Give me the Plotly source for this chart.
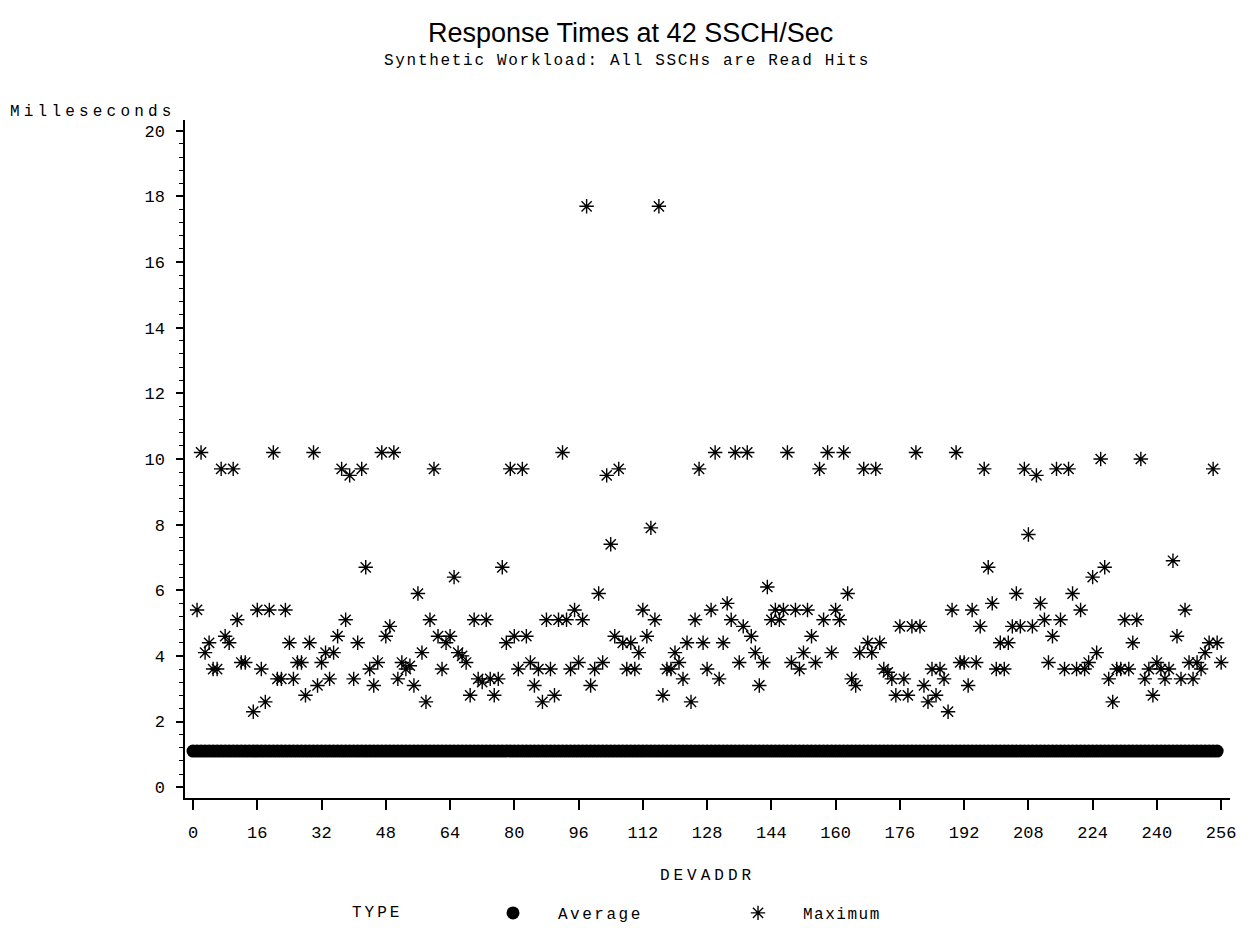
import plotly.graph_objects as go

# ---------------- data ----------------
devaddr_avg = list(range(0, 256))
avg_ms = [
    1.1, 1.1, 1.1, 1.1, 1.1, 1.1, 1.1, 1.1, 1.1, 1.1, 1.1, 1.1, 1.1, 1.1, 1.1, 1.1,
    1.1, 1.1, 1.1, 1.1, 1.1, 1.1, 1.1, 1.1, 1.1, 1.1, 1.1, 1.1, 1.1, 1.1, 1.1, 1.1,
    1.1, 1.1, 1.1, 1.1, 1.1, 1.1, 1.1, 1.1, 1.1, 1.1, 1.1, 1.1, 1.1, 1.1, 1.1, 1.1,
    1.1, 1.1, 1.1, 1.1, 1.1, 1.1, 1.1, 1.1, 1.1, 1.1, 1.1, 1.1, 1.1, 1.1, 1.1, 1.1,
    1.1, 1.1, 1.1, 1.1, 1.1, 1.1, 1.1, 1.1, 1.1, 1.1, 1.1, 1.1, 1.1, 1.1, 1.1, 1.1,
    1.1, 1.1, 1.1, 1.1, 1.1, 1.1, 1.1, 1.1, 1.1, 1.1, 1.1, 1.1, 1.1, 1.1, 1.1, 1.1,
    1.1, 1.1, 1.1, 1.1, 1.1, 1.1, 1.1, 1.1, 1.1, 1.1, 1.1, 1.1, 1.1, 1.1, 1.1, 1.1,
    1.1, 1.1, 1.1, 1.1, 1.1, 1.1, 1.1, 1.1, 1.1, 1.1, 1.1, 1.1, 1.1, 1.1, 1.1, 1.1,
    1.1, 1.1, 1.1, 1.1, 1.1, 1.1, 1.1, 1.1, 1.1, 1.1, 1.1, 1.1, 1.1, 1.1, 1.1, 1.1,
    1.1, 1.1, 1.1, 1.1, 1.1, 1.1, 1.1, 1.1, 1.1, 1.1, 1.1, 1.1, 1.1, 1.1, 1.1, 1.1,
    1.1, 1.1, 1.1, 1.1, 1.1, 1.1, 1.1, 1.1, 1.1, 1.1, 1.1, 1.1, 1.1, 1.1, 1.1, 1.1,
    1.1, 1.1, 1.1, 1.1, 1.1, 1.1, 1.1, 1.1, 1.1, 1.1, 1.1, 1.1, 1.1, 1.1, 1.1, 1.1,
    1.1, 1.1, 1.1, 1.1, 1.1, 1.1, 1.1, 1.1, 1.1, 1.1, 1.1, 1.1, 1.1, 1.1, 1.1, 1.1,
    1.1, 1.1, 1.1, 1.1, 1.1, 1.1, 1.1, 1.1, 1.1, 1.1, 1.1, 1.1, 1.1, 1.1, 1.1, 1.1,
    1.1, 1.1, 1.1, 1.1, 1.1, 1.1, 1.1, 1.1, 1.1, 1.1, 1.1, 1.1, 1.1, 1.1, 1.1, 1.1,
    1.1, 1.1, 1.1, 1.1, 1.1, 1.1, 1.1, 1.1, 1.1, 1.1, 1.1, 1.1, 1.1, 1.1, 1.1, 1.1,
]

devaddr_max = [
    1, 2, 3, 4, 5, 6, 7, 8, 9, 10, 11, 12, 13, 15, 16, 17, 18, 19, 20,
    21, 22, 23, 24, 25, 26, 27, 28, 29, 30, 31, 32, 33, 34, 35, 36, 37, 38, 39, 40,
    41, 42, 43, 44, 45, 46, 47, 48, 49, 50, 51, 52, 53, 54, 55, 56, 57, 58, 59, 60,
    61, 62, 63, 64, 65, 66, 67, 68, 69, 70, 71, 72, 73, 74, 75, 76, 77, 78, 79, 80,
    81, 82, 83, 84, 85, 86, 87, 88, 89, 90, 91, 92, 93, 94, 95, 96, 97, 98, 99, 100,
    101, 102, 103, 104, 105, 106, 107, 108, 109, 110, 111, 112, 113, 114, 115, 116, 117, 118, 119, 120,
    121, 122, 123, 124, 125, 126, 127, 128, 129, 130, 131, 132, 133, 134, 135, 136, 137, 138, 139, 140,
    141, 142, 143, 144, 145, 146, 147, 148, 149, 150, 151, 152, 153, 154, 155, 156, 157, 158, 159, 160,
    161, 162, 163, 164, 165, 166, 167, 168, 169, 170, 171, 172, 173, 174, 175, 176, 177, 178, 179, 180,
    181, 182, 183, 184, 185, 186, 187, 188, 189, 190, 191, 192, 193, 194, 195, 196, 197, 198, 199, 200,
    201, 202, 203, 204, 205, 206, 207, 208, 209, 210, 211, 212, 213, 214, 215, 216, 217, 218, 219, 220,
    221, 222, 223, 224, 225, 226, 227, 228, 229, 230, 231, 232, 233, 234, 235, 236, 237, 238, 239, 240,
    241, 242, 243, 244, 245, 246, 247, 248, 249, 250, 251, 252, 253, 254, 255, 256,
]
max_ms = [
    5.4, 10.2, 4.1, 4.4, 3.6, 3.6, 9.7, 4.6, 4.4, 9.7, 5.1, 3.8, 3.8, 2.3, 5.4, 3.6, 2.6, 5.4, 10.2,
    3.3, 3.3, 5.4, 4.4, 3.3, 3.8, 3.8, 2.8, 4.4, 10.2, 3.1, 3.8, 4.1, 3.3, 4.1, 4.6, 9.7, 5.1, 9.5, 3.3,
    4.4, 9.7, 6.7, 3.6, 3.1, 3.8, 10.2, 4.6, 4.9, 10.2, 3.3, 3.8, 3.6, 3.7, 3.1, 5.9, 4.1, 2.6, 5.1, 9.7,
    4.6, 3.6, 4.4, 4.6, 6.4, 4.1, 4.0, 3.8, 2.8, 5.1, 3.3, 3.2, 5.1, 3.3, 2.8, 3.3, 6.7, 4.4, 9.7, 4.6,
    3.6, 9.7, 4.6, 3.8, 3.1, 3.6, 2.6, 5.1, 3.6, 2.8, 5.1, 10.2, 5.1, 3.6, 5.4, 3.8, 5.1, 17.7, 3.1, 3.6,
    5.9, 3.8, 9.5, 7.4, 4.6, 9.7, 4.4, 3.6, 4.4, 3.6, 4.1, 5.4, 4.6, 7.9, 5.1, 17.7, 2.8, 3.6, 3.6, 4.1,
    3.8, 3.3, 4.4, 2.6, 5.1, 9.7, 4.4, 3.6, 5.4, 10.2, 3.3, 4.4, 5.6, 5.1, 10.2, 3.8, 4.9, 10.2, 4.6, 4.1,
    3.1, 3.8, 6.1, 5.1, 5.4, 5.1, 5.4, 10.2, 3.8, 5.4, 3.6, 4.1, 5.4, 4.6, 3.8, 9.7, 5.1, 10.2, 4.1, 5.4,
    5.1, 10.2, 5.9, 3.3, 3.1, 4.1, 9.7, 4.4, 4.1, 9.7, 4.4, 3.6, 3.5, 3.3, 2.8, 4.9, 3.3, 2.8, 4.9, 10.2,
    4.9, 3.1, 2.6, 3.6, 2.8, 3.6, 3.3, 2.3, 5.4, 10.2, 3.8, 3.8, 3.1, 5.4, 3.8, 4.9, 9.7, 6.7, 5.6, 3.6,
    4.4, 3.6, 4.4, 4.9, 5.9, 4.9, 9.7, 7.7, 4.9, 9.5, 5.6, 5.1, 3.8, 4.6, 9.7, 5.1, 3.6, 9.7, 5.9, 3.6,
    5.4, 3.6, 3.8, 6.4, 4.1, 10.0, 6.7, 3.3, 2.6, 3.6, 3.6, 5.1, 3.6, 4.4, 5.1, 10.0, 3.3, 3.6, 2.8, 3.8,
    3.6, 3.3, 3.6, 6.9, 4.6, 3.3, 5.4, 3.8, 3.3, 3.8, 3.6, 4.1, 4.4, 9.7, 4.4, 3.8,
]

x_ticks = [0, 16, 32, 48, 64, 80, 96, 112, 128, 144, 160, 176, 192, 208, 224, 240, 256]
y_ticks = [0, 2, 4, 6, 8, 10, 12, 14, 16, 18, 20]

MONO = "Liberation Mono"
W, H = 1243, 920          # page body has an 8px margin
L, R, T, B = 177, 21, 112, 130
PW, PH = W - L - R, H - T - B


def spaced(s, px):
    return '<span style="letter-spacing:%spx">%s</span>' % (px, s)


fig = go.Figure()
fig.add_trace(go.Scatter(
    x=devaddr_avg, y=avg_ms, mode="markers", name=spaced("Average", 2.5),
    marker=dict(symbol="circle", size=13, color="black", line=dict(width=0)),
))
fig.add_trace(go.Scatter(
    x=devaddr_max, y=max_ms, mode="markers", name=spaced("Maximum", 1.5),
    marker=dict(symbol="asterisk-open", size=12, color="black",
                line=dict(width=1.4, color="black")),
))

fig.update_layout(
    width=W, height=H,
    paper_bgcolor="white", plot_bgcolor="white",
    margin=dict(l=L, r=R, t=T, b=B),
    showlegend=True,
    legend=dict(orientation="h", xref="container", yref="container",
                x=342 / W, xanchor="left",
                y=1 - 905 / H, yanchor="middle",
                title=dict(text=spaced("TYPE", 3) + "      ",
                           font=dict(family=MONO, size=16, color="black")),
                font=dict(family=MONO, size=16, color="black"),
                itemwidth=80, entrywidth=150,
                bgcolor="rgba(0,0,0,0)"),
    font=dict(family=MONO, color="black"),
)

fig.update_xaxes(
    range=[-2, 258.2], tickmode="array", tickvals=x_ticks,
    ticktext=[str(v) for v in x_ticks],
    ticks="outside", ticklen=10, tickwidth=1.5, tickcolor="black",
    ticklabelstandoff=8,
    showline=True, linewidth=1.5, linecolor="black",
    showgrid=False, zeroline=False,
    tickfont=dict(family=MONO, size=17, color="black"),
    title=dict(text=spaced("DEVADDR", 4), font=dict(family=MONO, size=16, color="black"),
               standoff=27),
)
fig.update_yaxes(
    range=[-0.33, 20.33], tickmode="array", tickvals=y_ticks,
    ticks="outside", ticklen=7, tickwidth=1.5, tickcolor="black",
    ticklabelstandoff=8,
    minor=dict(dtick=0.4, ticks="outside", ticklen=4, tickwidth=1, tickcolor="black"),
    showline=True, linewidth=1.5, linecolor="black",
    showgrid=False, zeroline=False,
    tickfont=dict(family=MONO, size=17, color="black"),
)

# title and subtitle (centered on the page)
fig.add_annotation(
    text="Response Times at 42 SSCH/Sec",
    xref="paper", yref="paper", x=(622 - L) / PW, y=1 + (T - 25) / PH,
    xanchor="center", yanchor="middle", showarrow=False,
    font=dict(family="Liberation Sans", size=27, color="black"),
)
fig.add_annotation(
    text=spaced("Synthetic Workload: All SSCHs are Read Hits", 1.7),
    xref="paper", yref="paper", x=(619 - L) / PW, y=1 + (T - 53) / PH,
    xanchor="center", yanchor="middle", showarrow=False,
    font=dict(family=MONO, size=16, color="black"),
)
fig.add_annotation(
    text=spaced("Milleseconds", 4.2),
    xref="paper", yref="paper", x=(0 - L) / PW, y=1 + (T - 104) / PH,
    xanchor="left", yanchor="middle", showarrow=False,
    font=dict(family=MONO, size=16, color="black"),
)

fig.write_html("out.html")
